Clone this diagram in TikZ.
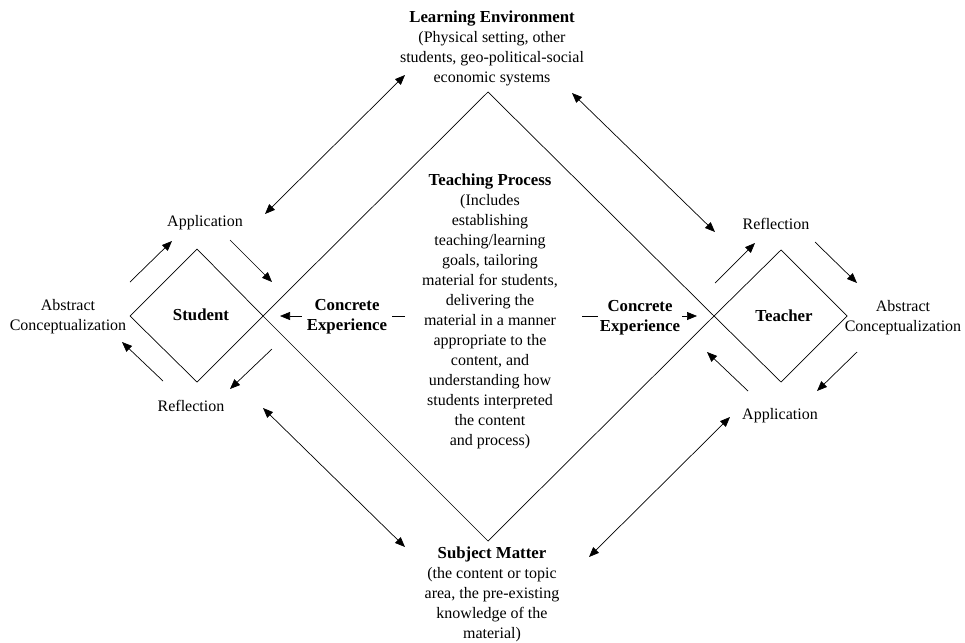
\documentclass[tikz,border=0pt]{standalone}
\usepackage{fontspec}
\setmainfont{Liberation Serif}
\usetikzlibrary{arrows.meta}
\newcommand{\bsz}{\fontsize{16.8}{20}\selectfont\bfseries}
\begin{document}
\begin{tikzpicture}[x=1pt,y=-1pt,
  lbl/.style={align=center, font=\fontsize{16}{20}\selectfont, inner sep=0pt},
  blbl/.style={align=center, font=\bsz, inner sep=0pt},
  ln/.style={line width=0.7pt},
  arr/.style={line width=0.7pt, -{Triangle[length=10pt,width=8pt]}},
  darr/.style={line width=0.7pt, {Triangle[length=10pt,width=8pt]}-{Triangle[length=10pt,width=8pt]}}]
\useasboundingbox (0,0) rectangle (965,642);
% diamond vertices
\coordinate (T) at (488,92);
\coordinate (B) at (488,541);
\coordinate (L) at (263,316);
\coordinate (R) at (714,316);
\coordinate (sT) at (197,249);
\coordinate (sL) at (130,316);
\coordinate (sB) at (197,382);
\coordinate (tT) at (781,250);
\coordinate (tR) at (847,316);
\coordinate (tB) at (781,382);
\draw[ln] (T) -- (L) -- (B) -- (R) -- cycle;
\draw[ln] (sT) -- (sL) -- (sB) -- (L) -- cycle;
\draw[ln] (tT) -- (tR) -- (tB) -- (R) -- cycle;
% concrete experience arrows (behind white nodes)
\coordinate (cl0) at (405,316);
\coordinate (cr0) at (582,316);
\draw[arr, shorten >=17pt] (cl0) -- (L);
\draw[arr, shorten >=17pt] (cr0) -- (R);
% text nodes
\node[lbl] (env) at (492,48.5) {{\bsz Learning Environment}\\(Physical setting, other\\students, geo-political-social\\economic systems};
\node[lbl] (teach) at (490,311.5) {{\bsz Teaching Process}\\(Includes\\establishing\\teaching/learning\\goals, tailoring\\material for students,\\delivering the\\material in a manner\\appropriate to the\\content, and\\understanding how\\students interpreted\\the content\\and process)};
\node[lbl] (subj) at (492,594.5) {{\bsz Subject Matter}\\(the content or topic\\area, the pre-existing\\knowledge of the\\material)};
\node[blbl] (stud) at (201,315) {Student};
\node[blbl] (teac) at (784,316) {Teacher};
\node[lbl] (sapp) at (205,223) {Application};
\node[lbl] (sref) at (191,406) {Reflection};
\node[lbl] (sabs) at (68,316.5) {Abstract\\Conceptualization};
\node[blbl, fill=white, inner xsep=5pt, inner ysep=1pt] (scon) at (347,317) {Concrete\\Experience};
\node[blbl, fill=white, inner xsep=2pt, inner ysep=1pt] (tcon) at (640,317.5) {Concrete\\Experience};
\node[lbl] (tref) at (776,224) {Reflection};
\node[lbl] (tabs) at (903,318) {Abstract\\Conceptualization};
\node[lbl] (tapp) at (780,416) {Application};
% student cycle arrows
\coordinate (a1s) at (130,282); \coordinate (a1e) at (172,241);
\coordinate (a2s) at (230,240); \coordinate (a2e) at (272,282);
\coordinate (a3s) at (272,349); \coordinate (a3e) at (230,389);
\coordinate (a4s) at (163,381); \coordinate (a4e) at (122,342);
\draw[arr] (a1s) -- (a1e);
\draw[arr] (a2s) -- (a2e);
\draw[arr] (a3s) -- (a3e);
\draw[arr] (a4s) -- (a4e);
% teacher cycle arrows
\coordinate (b1s) at (715,283); \coordinate (b1e) at (755,243);
\coordinate (b2s) at (815,242); \coordinate (b2e) at (857,283);
\coordinate (b3s) at (857,352); \coordinate (b3e) at (817,391);
\coordinate (b4s) at (748,391); \coordinate (b4e) at (707,352);
\draw[arr] (b1s) -- (b1e);
\draw[arr] (b2s) -- (b2e);
\draw[arr] (b3s) -- (b3e);
\draw[arr] (b4s) -- (b4e);
% long double arrows
\coordinate (ul1) at (265,214); \coordinate (ul2) at (405,75);
\coordinate (ur1) at (572,93); \coordinate (ur2) at (715,232);
\coordinate (ll1) at (263,408); \coordinate (ll2) at (405,547);
\coordinate (lr1) at (730,417); \coordinate (lr2) at (589,557);
\draw[darr] (ul1) -- (ul2);
\draw[darr] (ur1) -- (ur2);
\draw[darr] (ll1) -- (ll2);
\draw[darr] (lr1) -- (lr2);
\end{tikzpicture}
\end{document}
